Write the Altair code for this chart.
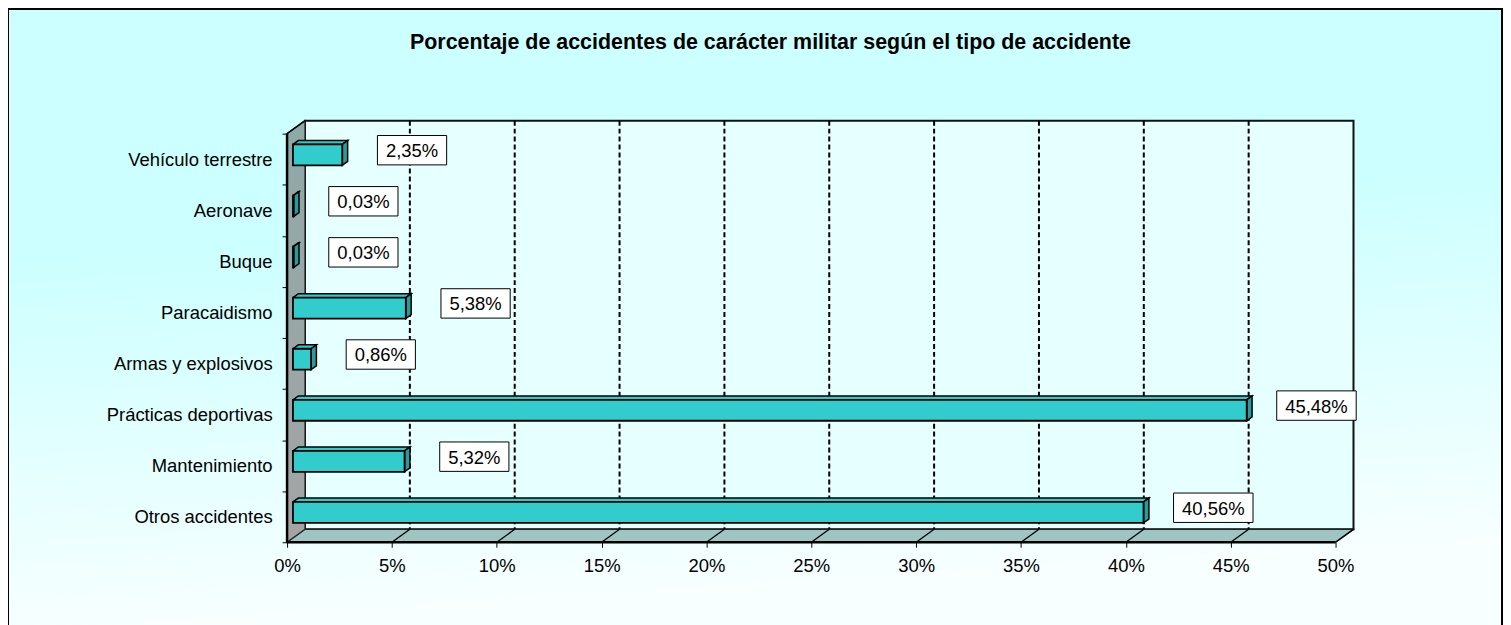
import altair as alt
import pandas as pd

# ---------------- data ----------------
categories = [
    "Vehículo terrestre",
    "Aeronave",
    "Buque",
    "Paracaidismo",
    "Armas y explosivos",
    "Prácticas deportivas",
    "Mantenimiento",
    "Otros accidentes",
]
values = [2.35, 0.03, 0.03, 5.38, 0.86, 45.48, 5.32, 40.56]
x_ticks = [0, 5, 10, 15, 20, 25, 30, 35, 40, 45, 50]
title_text = "Porcentaje de accidentes de carácter militar según el tipo de accidente"

# ---------------- layout / style ----------------
W, H = 1500, 620
PX0, PXPCT = 280.0, 21.04        # view x of 0 %, pixels per percent
PY0, PYBAND = 125.0, 51.25       # view y of first band, band height
DEPTH_X, DEPTH_Y = 18.0, -13.0   # 3-D depth offset in px
BAR_FRONT, BAR_BACK = 0.33, 0.63
BAR_HALF_PX = 10.5
LABEL_OFF_PX = 70.0
LABEL_UP_PX = 9.0
FS = 18.5
FONT = "Liberation Sans"
XMAX = x_ticks[-1]

n = len(categories)
dx = DEPTH_X / PXPCT
dy = DEPTH_Y / PYBAND
h = BAR_HALF_PX / PYBAND

xs = alt.Scale(domain=[-PX0 / PXPCT, (W - PX0) / PXPCT], nice=False, zero=False)
ys = alt.Scale(domain=[-PY0 / PYBAND, (H - PY0) / PYBAND], nice=False, zero=False, reverse=True)

label_list = "[" + ",".join("'" + c + "'" for c in categories) + "]"
y_axis = alt.Axis(
    values=list(range(n + 1)),
    labelExpr=f"datum.value < {n} ? {label_list}[datum.value] : ''",
    offset=-PX0, domain=False, grid=False, ticks=True, tickSize=5,
    tickColor="#000", tickWidth=1, labelOffset=PYBAND / 2, labelPadding=10,
    labelFont=FONT, labelFontSize=FS, labelColor="#000", labelOverlap=False,
    labelFlush=False, labelBound=False, title=None, zindex=1,
)
x_axis = alt.Axis(
    values=x_ticks, labelExpr="datum.value + '%'",
    offset=-(H - (PY0 + n * PYBAND)), domain=False, grid=False, tickSize=5,
    tickColor="#000", tickWidth=1, labelPadding=9, labelFont=FONT,
    labelFontSize=FS, labelColor="#000", labelFlush=False, labelOverlap=False,
    title=None, zindex=1,
)


def X(f):
    return alt.X(f"{f}:Q", scale=xs, axis=x_axis)


def Y(f):
    return alt.Y(f"{f}:Q", scale=ys, axis=y_axis)


def polys(items):
    recs = []
    for fid, pts in items:
        pts = pts + [pts[0]]
        for k, (x, u) in enumerate(pts):
            recs.append({"face": fid, "k": k, "x": x, "u": u})
    return pd.DataFrame(recs)


def poly_layer(df, fill, stroke="#000", sw=1.0):
    return alt.Chart(df).mark_line(
        fill=fill, stroke=stroke, strokeWidth=sw, strokeJoin="miter"
    ).encode(x=X("x"), y=Y("u"), detail="face:N", order="k:Q")


one = pd.DataFrame({"a": [0]})

# background gradient
bg = alt.Chart(one).mark_rect(
    fill={"gradient": "linear", "x1": 0, "y1": 0, "x2": 0.15, "y2": 1,
          "stops": [{"offset": 0, "color": "#CCFFFF"},
                    {"offset": 0.4, "color": "#CCFFFF"},
                    {"offset": 1, "color": "#F8FFFF"}]}
).encode(x=alt.value(0), x2=alt.value(W), y=alt.value(0), y2=alt.value(H))

# back wall
wall_df = pd.DataFrame({"x": [dx], "x2": [XMAX + dx], "u": [dy], "u2": [n + dy]})
back_wall = alt.Chart(wall_df).mark_rect(
    fill="#E6FFFF", stroke="#111", strokeWidth=2
).encode(x=X("x"), x2="x2:Q", y=Y("u"), y2="u2:Q")

grid_df = pd.DataFrame({"x": [t + dx for t in x_ticks[1:-1]], "u": dy, "u2": n + dy})
grid = alt.Chart(grid_df).mark_rule(
    stroke="#000", strokeWidth=2, strokeDash=[5, 3]
).encode(x=X("x"), y=Y("u"), y2="u2:Q")

floor = poly_layer(
    polys([("floor", [(0, n), (XMAX, n), (XMAX + dx, n + dy), (dx, n + dy)])]),
    "#9EC5C2", "#222", 1.2)
floor_lines_df = pd.DataFrame({"x": x_ticks[1:-1], "x2": [t + dx for t in x_ticks[1:-1]],
                               "u": n, "u2": n + dy})
floor_lines = alt.Chart(floor_lines_df).mark_rule(stroke="#000", strokeWidth=1.3).encode(
    x=X("x"), x2="x2:Q", y=Y("u"), y2="u2:Q")

left_wall = alt.Chart(
    polys([("lw", [(0, 0), (dx, dy), (dx, n + dy), (0, n)])])
).mark_line(
    fill={"gradient": "linear", "x1": 0, "y1": 0, "x2": 0, "y2": 1,
          "stops": [{"offset": 0, "color": "#8EA9A8"}, {"offset": 1, "color": "#A4A4A4"}]},
    stroke="#222", strokeWidth=1.2, strokeJoin="miter",
).encode(x=X("x"), y=Y("u"), detail="face:N", order="k:Q")

# bars
tops, sides, fronts = [], [], []
for i, (c, v) in enumerate(zip(categories, values)):
    cy = i + 0.5
    fx, bx = BAR_FRONT * dx, BAR_BACK * dx
    fy, by = BAR_FRONT * dy, BAR_BACK * dy
    tops.append((f"t{i}", [(fx, cy - h + fy), (v + fx, cy - h + fy),
                           (v + bx, cy - h + by), (bx, cy - h + by)]))
    sides.append((f"s{i}", [(v + fx, cy - h + fy), (v + bx, cy - h + by),
                            (v + bx, cy + h + by), (v + fx, cy + h + fy)]))
    fronts.append({"x": fx, "x2": v + fx, "u": cy - h + fy, "u2": cy + h + fy})

bar_tops = poly_layer(polys(tops), "#35C8C8", "#000", 1.5)
bar_sides = poly_layer(polys(sides), "#2A9A9A", "#000", 1.5)
bar_fronts = alt.Chart(pd.DataFrame(fronts)).mark_rect(
    fill="#33CCCC", stroke="#000", strokeWidth=1.8
).encode(x=X("x"), x2="x2:Q", y=Y("u"), y2="u2:Q")

# axis lines (front)
axis_lines = pd.DataFrame({"x": [0, 0], "x2": [0, XMAX], "u": [0, n], "u2": [n, n]})
front_axes = alt.Chart(axis_lines).mark_rule(stroke="#000", strokeWidth=2.5).encode(
    x=X("x"), x2="x2:Q", y=Y("u"), y2="u2:Q")
edges = pd.DataFrame({"x": [0, XMAX], "x2": [dx, XMAX + dx], "u": [0, n], "u2": [dy, n + dy]})
edge_rules = alt.Chart(edges).mark_rule(stroke="#000", strokeWidth=1.5).encode(
    x=X("x"), x2="x2:Q", y=Y("u"), y2="u2:Q")

# data labels
char_w = {",": 0.278, "%": 0.889}
lab = []
for i, v in enumerate(values):
    txt = f"{v:.2f}".replace(".", ",") + "%"
    tw = sum(char_w.get(ch, 0.556) for ch in txt) * FS
    bw = (tw + 17) / PXPCT
    cx = v + BAR_FRONT * dx + LABEL_OFF_PX / PXPCT
    cy = i + 0.5 - LABEL_UP_PX / PYBAND
    bh = 29.5 / PYBAND
    lab.append({"txt": txt, "cx": cx, "cy": cy, "x": cx - bw / 2, "x2": cx + bw / 2,
                "u": cy - bh / 2, "u2": cy + bh / 2})
lab_df = pd.DataFrame(lab)
label_boxes = alt.Chart(lab_df).mark_rect(fill="#FFFFFF", stroke="#000", strokeWidth=1).encode(
    x=X("x"), x2="x2:Q", y=Y("u"), y2="u2:Q")
label_text = alt.Chart(lab_df).mark_text(
    font=FONT, fontSize=FS, color="#000", align="center", baseline="middle", dy=1
).encode(x=X("cx"), y=Y("cy"), text="txt:N")

title = alt.Chart(pd.DataFrame({"t": [title_text]})).mark_text(
    font=FONT, fontSize=21.5, fontWeight="bold", color="#000", align="center",
    baseline="alphabetic"
).encode(x=alt.value(765), y=alt.value(40), text="t:N")

border = alt.Chart(one).mark_rect(fillOpacity=0, stroke="#000", strokeWidth=2).encode(
    x=alt.value(0), x2=alt.value(W - 1), y=alt.value(0), y2=alt.value(H + 10))

chart = alt.layer(
    bg, back_wall, grid, floor, floor_lines, left_wall, edge_rules,
    bar_tops, bar_sides, bar_fronts, front_axes, label_boxes, label_text,
    title, border,
).properties(
    width=W, height=H, padding=0, autosize=alt.AutoSizeParams(type="none"),
    background="#FFFFFF",
).configure_view(strokeWidth=0)

chart.save("out.html", embed_options={"renderer": "svg", "actions": False})
